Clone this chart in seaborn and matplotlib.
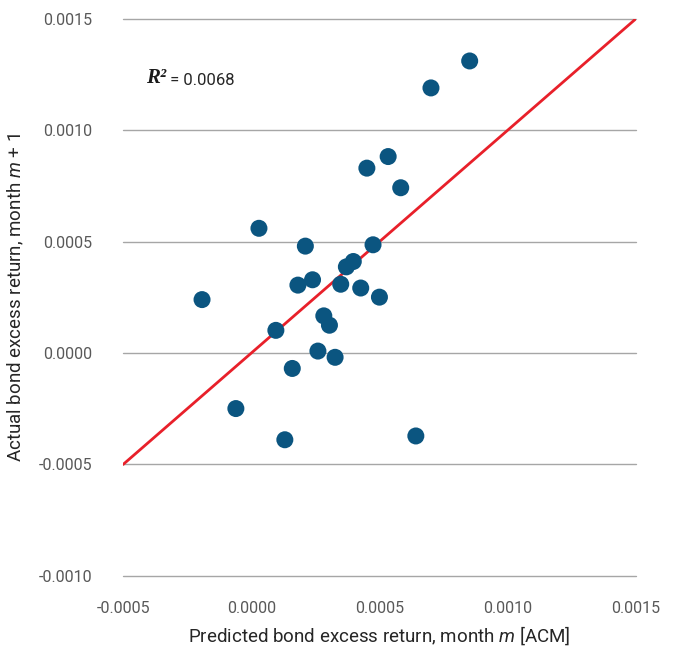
import numpy as np
import pandas as pd
import matplotlib
matplotlib.use("Agg")
import matplotlib.pyplot as plt
import seaborn as sns
from matplotlib.ticker import FuncFormatter, MultipleLocator

# ── Data ──────────────────────────────────────────────────────────────────────
predicted = [0.000852, 0.000701, 0.000534, 0.000451, 0.000583, 0.000030,
             0.000211, 0.000475, 0.000398, 0.000371, 0.000239, 0.000182,
             0.000349, 0.000427, 0.000500, -0.000192, 0.000283, 0.000305,
             0.000096, 0.000260, 0.000327, 0.000160, -0.000060, 0.000131,
             0.000642]
actual = [0.001311, 0.001190, 0.000882, 0.000830, 0.000742, 0.000560,
          0.000480, 0.000486, 0.000411, 0.000387, 0.000329, 0.000305,
          0.000309, 0.000292, 0.000251, 0.000240, 0.000167, 0.000125,
          0.000102, 0.000009, -0.000019, -0.000069, -0.000249, -0.000389,
          -0.000372]
line_x = [-0.0005, 0.0015]
line_y = [-0.0005, 0.0015]
r2_value = 0.0068

df = pd.DataFrame({"predicted": predicted, "actual": actual})
line_df = pd.DataFrame({"x": line_x, "y": line_y})

# ── Style ─────────────────────────────────────────────────────────────────────
sns.set_style("white")
plt.rcParams["font.family"] = ["Roboto", "DejaVu Sans"]
plt.rcParams["mathtext.fontset"] = "custom"
plt.rcParams["mathtext.rm"] = "Roboto"
plt.rcParams["mathtext.it"] = "Roboto:italic"

tick_color = "#595959"
grid_color = "#a6a6a6"

fig = plt.figure(figsize=(6.8, 6.5), dpi=100)
ax = fig.add_axes([0.181, 0.114, 0.754, 0.857])

sns.lineplot(data=line_df, x="x", y="y", color="#e8202a", lw=2.0, ax=ax, zorder=2)
sns.scatterplot(data=df, x="predicted", y="actual", color="#0b5580", s=150,
                edgecolor="none", ax=ax, zorder=3)

ax.set_xlim(-0.0005, 0.0015)
ax.set_ylim(-0.0010, 0.0015)
ax.xaxis.set_major_locator(MultipleLocator(0.0005))
ax.yaxis.set_major_locator(MultipleLocator(0.0005))
fmt = FuncFormatter(lambda v, _: f"{v:.4f}")
ax.xaxis.set_major_formatter(fmt)
ax.yaxis.set_major_formatter(fmt)

ax.yaxis.grid(True, color=grid_color, lw=1.0)
ax.xaxis.grid(False)
ax.set_axisbelow(True)
for gl in ax.get_ygridlines():
    gl.set_clip_on(False)
for sp in ax.spines.values():
    sp.set_visible(False)
ax.tick_params(axis="both", length=0, labelsize=11.5, labelcolor=tick_color)
ax.tick_params(axis="y", pad=22)
ax.tick_params(axis="x", pad=18)

ax.set_xlabel("Predicted bond excess return, month $m$ [ACM]",
              fontsize=13.5, color="#262626", labelpad=6)
ax.set_ylabel("Actual bond excess return, month $m$ + 1",
              fontsize=13.5, color="#262626")
ax.yaxis.set_label_coords(-0.19, 0.5)

# R² annotation
t = ax.text(0.045, 0.885, "R²", transform=ax.transAxes, fontsize=15,
            family="Liberation Serif", fontweight="bold", fontstyle="italic",
            va="baseline", ha="left", color="#1a1a1a")
ax.annotate(f" = {r2_value:.4f}", xy=(1, 0), xycoords=t, va="bottom",
            ha="left", fontsize=12, color="#262626")

fig.savefig("out.png", dpi=100)
plt.close(fig)
